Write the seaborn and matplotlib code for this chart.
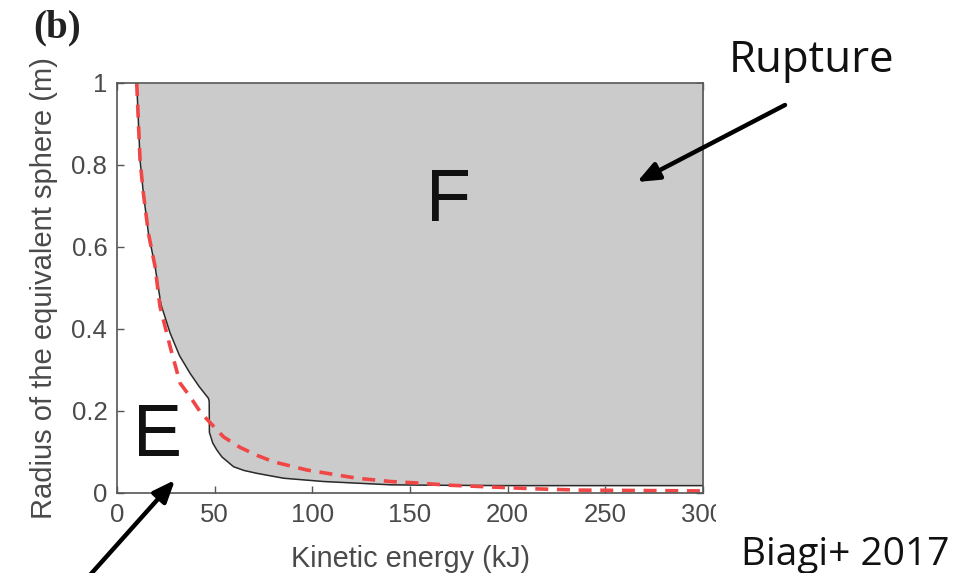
import matplotlib
matplotlib.use("Agg")
import matplotlib.pyplot as plt
import seaborn as sns
import pandas as pd

# Boundary between elastic response (E) and rupture (F)
boundary_energy_kj = [10.1, 11.8, 13.5, 16.1, 19.5, 22.5, 27.2, 32.0, 37.4, 42.0, 46.8, 47.2,
                      47.3, 49.0, 51.1, 53.7, 59.7, 65.0, 71.6, 85.3, 105.8, 140.0, 160.0,
                      200.0, 250.0, 300.0]
boundary_radius_m = [1.0, 0.812, 0.731, 0.633, 0.552, 0.46, 0.39, 0.335, 0.292, 0.26, 0.231, 0.224,
                     0.148, 0.122, 0.105, 0.088, 0.064, 0.055, 0.048, 0.036, 0.028, 0.020, 0.019,
                     0.018, 0.018, 0.018]

# Simplified analytical threshold
model_energy_kj = [10.1, 11.8, 13.5, 16.1, 19.5, 22.0, 27.2, 32.3, 37.4, 42.6, 46.8, 54.5, 63.1,
                   71.6, 80.2, 97.3, 122.9, 140.0, 151.8, 170.0, 194.7, 215.0, 237.4, 270.0, 300.0]
model_radius_m = [1.0, 0.812, 0.731, 0.633, 0.552, 0.455, 0.357, 0.268, 0.235, 0.198, 0.176, 0.137,
                  0.111, 0.092, 0.076, 0.056, 0.036, 0.028, 0.025, 0.019, 0.014, 0.010, 0.007,
                  0.006, 0.005]

x_ticks = [0, 50, 100, 150, 200, 250, 300]
x_tick_labels = ["0", "50", "100", "150", "200", "250", "300"]
y_ticks = [0, 0.2, 0.4, 0.6, 0.8, 1.0]
y_tick_labels = ["0", "0.2", "0.4", "0.6", "0.8", "1"]

boundary = pd.DataFrame({"energy": boundary_energy_kj, "radius": boundary_radius_m})
model = pd.DataFrame({"energy": model_energy_kj, "radius": model_radius_m})

sns.set_theme(style="ticks")
plt.rcParams["font.family"] = ["Liberation Sans", "DejaVu Sans"]

W, H = 963, 573
fig = plt.figure(figsize=(W / 100, H / 100), dpi=100)
fig.patch.set_facecolor("white")
ax = fig.add_axes([117 / W, (H - 493) / H, 586 / W, 410 / H])
ax.set_facecolor("white")

grey = "#cbcbcb"
ax.fill_between(boundary["energy"], boundary["radius"], 1.0, color=grey, linewidth=0, zorder=1)
sns.lineplot(data=boundary, x="energy", y="radius", sort=False, estimator=None,
             color="#2a2a2a", linewidth=1.1, ax=ax, zorder=3)
sns.lineplot(data=model, x="energy", y="radius", sort=False, estimator=None,
             color="#f04646", linewidth=2.6, dashes=False, ax=ax, zorder=4)
ax.lines[-1].set_dashes((3.6, 2.4))

ax.set_xlim(0, 300)
ax.set_ylim(0, 1)
ax.set_xticks(x_ticks)
ax.set_xticklabels(x_tick_labels)
ax.set_yticks(y_ticks)
ax.set_yticklabels(y_tick_labels)
tick_color = "#4a4a4a"
ax.tick_params(direction="in", length=5, width=1.0, color="#555555", labelcolor=tick_color,
               labelsize=18.5, top=True, right=True, pad=7)
for s in ax.spines.values():
    s.set_visible(True)
    s.set_color("#555555")
    s.set_linewidth(1.2)
    s.set_zorder(5)

ax.set_xlabel("Kinetic energy (kJ)", fontsize=20.8, color=tick_color, labelpad=13)
ax.set_ylabel("Radius of the equivalent sphere (m)", fontsize=21, color=tick_color, labelpad=10)

# Region labels
ax.text(169.7, 0.712, "F", fontsize=53, color="#111111", ha="center", va="center", zorder=6)
ax.text(20.5, 0.137, "E", fontsize=53, color="#111111", ha="center", va="center", zorder=6)

# Panel tag
fig.text(33 / W, 1 - 28 / H, "(b)", fontsize=28, fontweight="bold", color="#222222",
         family=["Liberation Serif", "DejaVu Serif"], ha="left", va="center")

# Clipped edge of the last tick label
fig.patches.append(plt.Rectangle((716 / W, (H - 535) / H), 30 / W, 40 / H,
                                 transform=fig.transFigure, facecolor="white",
                                 edgecolor="none", zorder=10))

# Annotations
fig.text(812 / W, 1 - 72 / H, "Rupture", fontsize=31.5, color="#111111",
         family=["Open Sans", "DejaVu Sans"], ha="center", va="baseline")
fig.text(845 / W, 1 - 565 / H, "Biagi+ 2017", fontsize=28, color="#111111",
         family=["Open Sans", "DejaVu Sans"], ha="center", va="baseline")

arrow = dict(arrowstyle="-|>,head_length=1.1,head_width=0.45", color="black",
             linewidth=3.2, shrinkA=0, shrinkB=0)
ax.annotate("", xy=(637, H - 182), xytext=(785, H - 105),
            xycoords="figure pixels", textcoords="figure pixels",
            arrowprops=arrow, zorder=11, annotation_clip=False)
ax.annotate("", xy=(175, H - 480), xytext=(90, -2),
            xycoords="figure pixels", textcoords="figure pixels",
            arrowprops=arrow, zorder=11, annotation_clip=False)

fig.savefig("out.png", dpi=100, facecolor="white")
